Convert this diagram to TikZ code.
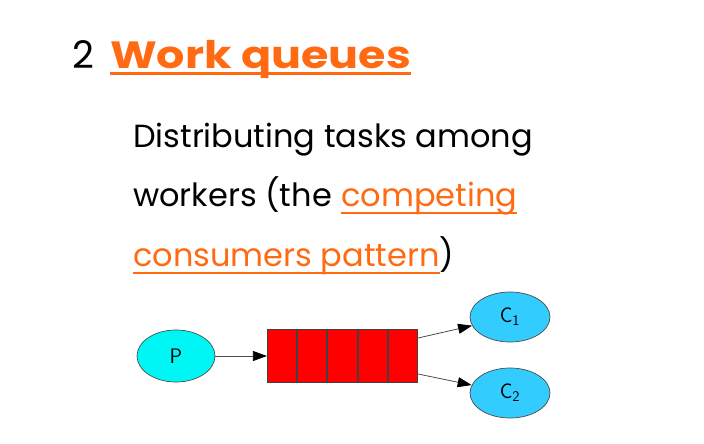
\documentclass[tikz,border=0pt]{standalone}
\usepackage{fontspec}
\setmainfont{Poppins}
\newfontfamily\headfont[FakeStretch=1.17]{Poppins}
\usetikzlibrary{positioning,shapes.geometric,arrows.meta}

\definecolor{linkorange}{HTML}{FF6A13}
\definecolor{prodcyan}{HTML}{00F5F5}
\definecolor{conblue}{HTML}{33CCFF}

\begin{document}
\begin{tikzpicture}[
    x=1pt, y=-1pt,
    txt/.style={anchor=base west, inner sep=0pt, font=\fontsize{32}{32}\selectfont},
    lnk/.style={txt, text=linkorange},
    uline/.style={draw=linkorange, line width=2.2pt},
    actor/.style={ellipse, draw=black!70, line width=0.7pt, minimum width=78pt,
        minimum height=52pt, inner sep=0pt, font=\sffamily\fontsize{21}{21}\selectfont},
    cell/.style={draw=black!75, line width=0.9pt, fill=red, minimum width=29.3pt,
        minimum height=53pt, inner sep=0pt},
    flow/.style={draw=black!70, line width=0.8pt,
        -{Triangle[length=14pt,width=10pt,color=black]}}
]
\useasboundingbox (0,0) rectangle (704,444);

% heading and text
\node[txt, font=\fontsize{38}{38}\selectfont] (num) at (72,68) {2};
\node[lnk, font=\headfont\fontsize{38}{38}\selectfont\bfseries] (title) at (110,68) {Work queues};
\node[txt] (line1) at (133,147) {Distributing tasks among};
\node[txt] (line2) at (133,206) {workers (the};
\node[lnk] (compet) at ([xshift=9pt]line2.base east) {competing};
\node[lnk] (pattern) at (133,266) {consumers pattern};
\node[txt] (paren) at (pattern.base east) {)};
\draw[uline, line width=3pt] ([yshift=-6pt]title.base west) -- ([yshift=-6pt]title.base east);
\foreach \t in {compet,pattern}
    \draw[uline] ([yshift=-7pt]\t.base west) -- ([yshift=-7pt]\t.base east);

% producer, queue, consumers
\node[actor, fill=prodcyan] (p) at (176,356) {P};
\node[cell] (q1) at (282,356) {};
\foreach \i [remember=\i as \j (initially 1)] in {2,...,5}
    \node[cell, right=0pt of q\j] (q\i) {};
\node[actor, fill=conblue, minimum width=80pt, minimum height=50pt] (c1) at (510,317) {C\textsubscript{1}};
\node[actor, fill=conblue, minimum width=80pt, minimum height=50pt] (c2) at (510,393) {C\textsubscript{2}};

\draw[flow] (p) -- (q1);
\draw[flow] ([yshift=-9pt]q5.north east) -- (c1);
\draw[flow] ([yshift=9pt]q5.south east) -- (c2);
\end{tikzpicture}
\end{document}
